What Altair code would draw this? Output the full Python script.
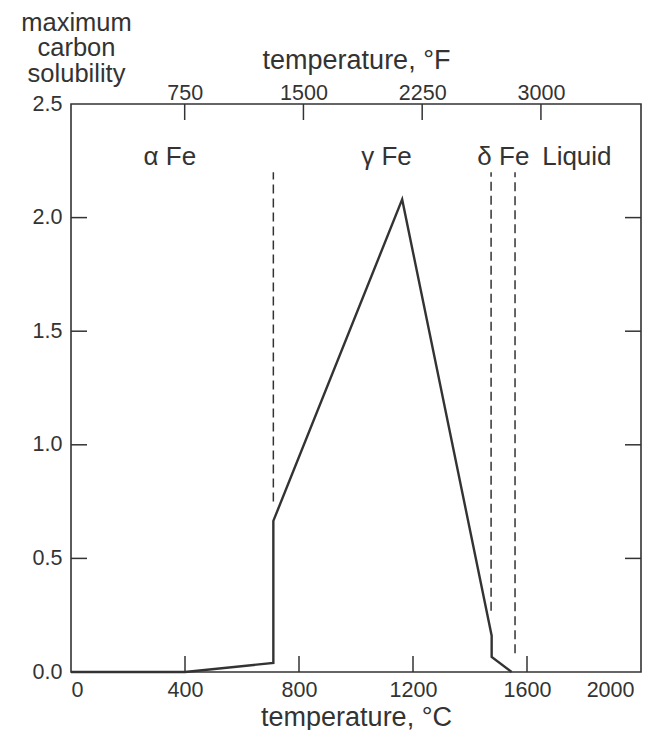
import altair as alt
import pandas as pd

# ---- data ----
curve_temp = [0, 400, 710, 710, 1162, 1476, 1476, 1546]
curve_carbon = [0.0, 0.0, 0.04, 0.665, 2.08, 0.16, 0.066, 0.0]

dash_temp = [710, 1474, 1558]
dash_top = [2.2, 2.2, 2.2]
dash_bottom = [0.75, 0.27, 0.083]

phase_labels = ["α Fe", "γ Fe", "δ Fe", "Liquid"]
phase_temp = [347, 1107, 1517, 1775]
phase_y = [2.23, 2.23, 2.23, 2.23]

c_ticks = [0, 400, 800, 1200, 1600, 2000]
c_inner_ticks = [400, 800, 1200, 1600]
f_ticks = [750, 1500, 2250, 3000]
y_ticks = [0.0, 0.5, 1.0, 1.5, 2.0, 2.5]
y_inner_ticks = [0.5, 1.0, 1.5, 2.0]

# ---- style ----
W, H = 570, 568
INK = "#333333"
FONT = "Liberation Sans"
LBL = 21.5
TTL = 27
TICK = 16

f_as_c = [(f - 32) * 5 / 9 for f in f_ticks]

curve_df = pd.DataFrame({"t": curve_temp, "c": curve_carbon, "i": list(range(len(curve_temp)))})
dash_df = pd.DataFrame({"t": dash_temp, "y0": dash_bottom, "y1": dash_top})
lab_df = pd.DataFrame({"t": phase_temp, "y": phase_y, "s": phase_labels})
cb_df = pd.DataFrame({"t": c_inner_ticks})
ft_df = pd.DataFrame({"t": f_as_c})
yt_df = pd.DataFrame({"y": y_inner_ticks})

def xs():
    return alt.Scale(domain=[0, 2000], nice=False, zero=False)

ys = alt.Scale(domain=[0, 2.5], nice=False)

yaxis = alt.Axis(
    values=y_ticks, format=".1f", ticks=False, tickSize=0, domain=False, grid=False,
    labelPadding=9, labelFontSize=LBL, labelColor=INK, labelFont=FONT,
    title=["maximum", "carbon", "solubility"], titleAngle=0, titleAlign="center",
    titleBaseline="alphabetic", titleX=5, titleY=-74, titleLineHeight=25.5,
    titleFontSize=25.5, titleFontWeight="normal", titleColor=INK, titleFont=FONT,
)

xaxis_bottom = alt.Axis(
    values=c_ticks, orient="bottom", format="d", ticks=False, tickSize=0, domain=False, grid=False,
    labelPadding=7, labelFontSize=LBL, labelColor=INK, labelFont=FONT, labelOverlap=False,
    labelOffset={"condition": {"test": "datum.value == 2000", "value": -7}, "value": 0},
    title="temperature, °C", titleX=W / 2, titleY=53, titleBaseline="alphabetic",
    titleFontSize=TTL, titleFontWeight="normal", titleColor=INK, titleFont=FONT,
)

xaxis_top = alt.Axis(
    values=f_as_c, orient="top", ticks=False, tickSize=0, domain=False, grid=False,
    labelExpr="format(datum.value * 9 / 5 + 32, '.0f')",
    labelPadding=0, labelFontSize=LBL, labelColor=INK, labelFont=FONT, labelOverlap=False,
    title="temperature, °F", titleX=W / 2, titleY=-36, titleBaseline="alphabetic",
    titleFontSize=TTL, titleFontWeight="normal", titleColor=INK, titleFont=FONT,
)

curve = alt.Chart(curve_df).mark_line(color=INK, strokeWidth=2.4).encode(
    x=alt.X("t:Q", scale=xs(), axis=xaxis_bottom),
    y=alt.Y("c:Q", scale=ys, axis=yaxis),
    order="i:Q",
)

dashes = alt.Chart(dash_df).mark_rule(color=INK, strokeWidth=1.5, strokeDash=[9, 5]).encode(
    x=alt.X("t:Q", scale=xs(), axis=None),
    y=alt.Y("y0:Q", scale=ys, axis=yaxis),
    y2="y1:Q",
)

labels = alt.Chart(lab_df).mark_text(
    font=FONT, fontSize=26, color=INK, baseline="alphabetic", align="center"
).encode(
    x=alt.X("t:Q", scale=xs(), axis=None),
    y=alt.Y("y:Q", scale=ys, axis=yaxis),
    text="s:N",
)

bottom_ticks = alt.Chart(cb_df).mark_rule(color=INK, strokeWidth=1.5).encode(
    x=alt.X("t:Q", scale=xs(), axis=None),
    y=alt.value(H), y2=alt.value(H - TICK),
)

top_ticks = alt.Chart(ft_df).mark_rule(color=INK, strokeWidth=1.5).encode(
    x=alt.X("t:Q", scale=xs(), axis=xaxis_top),
    y=alt.value(0), y2=alt.value(TICK),
)

left_ticks = alt.Chart(yt_df).mark_rule(color=INK, strokeWidth=1.5).encode(
    y=alt.Y("y:Q", scale=ys, axis=yaxis),
    x=alt.value(0), x2=alt.value(TICK),
)

right_ticks = alt.Chart(yt_df).mark_rule(color=INK, strokeWidth=1.5).encode(
    y=alt.Y("y:Q", scale=ys, axis=yaxis),
    x=alt.value(W), x2=alt.value(W - TICK),
)

chart = alt.layer(
    curve, dashes, labels, bottom_ticks, top_ticks, left_ticks, right_ticks
).resolve_scale(x="independent").properties(
    width=W, height=H,
    autosize=alt.AutoSizeParams(type="none"),
    padding={"left": 63, "top": 96, "right": 16, "bottom": 58},
    background="white",
).configure_view(stroke=INK, strokeWidth=1.6)

chart.save("out.html", embed_options={"renderer": "svg", "actions": False})
